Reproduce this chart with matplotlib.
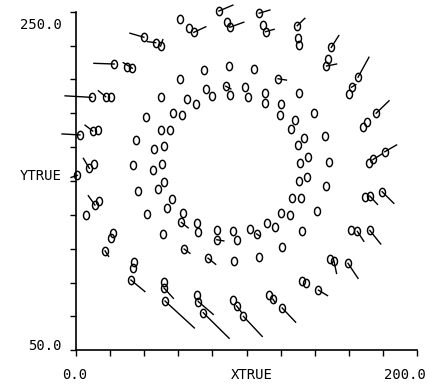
import numpy as np
import matplotlib
matplotlib.use('Agg')
import matplotlib.pyplot as plt
from matplotlib.path import Path

# outer ring: 24 clusters of 3 points (outermost first), with displacement vectors
outer_x = [2.3, 9.8, 13.1,   0.8, 7.8, 10.5,   5.7, 11.1, 13.5,   17.0, 20.8, 21.4,
           32.2, 33.6, 34.2,   52.2, 51.6, 51.7,   74.6, 71.7, 71.1,   98.2, 94.2, 91.8,
           120.9, 115.4, 113.1,   142.2, 134.8, 132.3,   159.5, 151.3, 149.1,   172.3, 165.0, 161.4,
           179.5, 172.3, 169.4,   181.1, 174.2, 171.7,   176.0, 170.8, 168.5,   165.4, 161.6, 160.0,
           149.7, 147.5, 146.9,   129.7, 130.3, 130.9,   107.4, 109.8, 111.2,   83.8, 88.3, 90.2,
           60.9, 66.4, 69.1,   39.8, 46.7, 49.6,   22.4, 30.1, 33.0,   9.2, 17.4, 20.3]
outer_y = [177.2, 179.5, 180.1,   153.3, 157.5, 159.9,   129.9, 135.8, 138.2,   108.7, 116.3, 119.3,
           91.5, 98.9, 101.9,   79.1, 86.8, 90.3,   72.2, 78.8, 82.7,   70.0, 76.2, 79.7,
           75.0, 80.2, 82.8,   85.5, 89.5, 90.9,   101.4, 102.7, 103.9,   120.8, 120.2, 120.8,
           143.7, 141.1, 140.4,   167.3, 162.7, 160.9,   190.0, 185.0, 182.1,   211.3, 205.4, 201.4,
           228.9, 221.9, 217.9,   241.7, 234.3, 230.3,   249.1, 242.2, 238.2,   250.4, 244.1, 240.8,
           245.5, 240.2, 237.8,   234.9, 231.7, 229.7,   219.1, 217.5, 216.6,   199.4, 199.8, 199.8]
outer_u = [-10.5, -4.5, 0,   -3.7, -3.5, 0,   0, -3.9, 0,   2.1, 0, 0,
           8.2, 0, 0,   17.2, 5.5, 0,   15.2, 8.8, 0,   11.0, 3.0, 0,
           7.9, 1.5, 0,   5.3, 0, 0,   5.9, 1.5, 0,   6.4, 3.8, 0,
           6.9, 4.5, 0,   6.9, 5.0, 0,   7.6, 0, 0,   6.4, 2.5, 0,
           4.4, 0, 5.9,   4.5, 0, 0,   6.3, 0, 5.0,   8.2, 0, 8.2,
           0, 0, 7.0,   -8.2, -4.7, 1.3,   -11.9, 0, -5.3,   -15.6, -4.3, 0]
outer_v = [0.6, 3.5, 0,   -1.2, 5.9, 0,   0, 5.5, 0,   -3.2, 0, 0,
           -6.8, 0, 0,   -15.9, -6.1, 0,   -15.1, -7.6, 0,   -11.8, -4.0, 0,
           -8.4, -2.0, 0,   -3.2, 0, 0,   -8.9, -7.3, 0,   -8.0, -5.8, 0,
           -6.9, -4.9, 0,   4.0, 3.1, 0,   7.4, 0, 0,   11.8, 1.5, 0,
           7.0, 0, 1.2,   4.4, 0, 0,   1.9, 0, 1.4,   3.5, 0, 3.0,
           0, 0, 3.3,   2.4, 0.6, 3.8,   0.4, 0, 3.3,   0.9, 3.5, 0]

# middle ring
mid_x = [49.8, 60.9, 75.0, 89.8, 104.5, 118.5, 130.7, 139.8, 146.2, 148.4, 146.7, 141.2,
         132.6, 120.7, 107.2, 92.6, 77.4, 63.4, 51.3, 41.7, 36.2, 33.6, 35.0, 40.9]
mid_y = [199.9, 210.0, 215.6, 217.8, 216.2, 210.4, 201.7, 190.0, 176.4, 161.1, 146.8, 132.2,
         120.6, 111.3, 105.2, 102.5, 104.4, 109.8, 118.7, 130.5, 144.1, 159.2, 174.2, 187.6]
mid_u = [0, 0, 0, 0, 0, 4.9, 0, 0, 0, 0, 0, 0, 0, 0, 0, 0, 4.5, 3.4, 0, 0, 0, 0, 0, 0]
mid_v = [0, 0, 0, 0, 0, -0.8, 0, 0, 0, 0, 0, 0, 0, 0, 0, 0, -3.6, -2.5, 0, 0, 0, 0, 0, 0]

# inner ring: pairs
inner_x = [56.7, 61.9, 64.9, 70.6, 76.2, 79.7, 87.8, 90.5, 99.0, 101.0, 110.8, 111.1,
           120.5, 119.5, 128.3, 126.3, 133.7, 130.1, 136.1, 131.6, 135.7, 130.5, 131.9, 126.6,
           125.4, 120.1, 116.6, 111.8, 105.9, 102.0, 94.3, 92.2, 82.6, 82.8, 71.3, 70.8,
           61.8, 62.7, 53.5, 56.0, 48.2, 51.7, 45.3, 50.2, 46.0, 51.6, 50.0, 55.1]
inner_y = [189.9, 188.7, 198.4, 195.7, 204.1, 200.0, 206.0, 200.8, 205.4, 199.4, 201.8, 195.9,
           195.2, 189.0, 186.3, 180.9, 175.5, 171.3, 164.2, 160.5, 152.4, 150.0, 140.1, 139.8,
           130.2, 131.1, 122.8, 125.1, 118.7, 121.8, 114.9, 120.2, 115.3, 121.1, 119.6, 124.9,
           125.5, 130.9, 134.2, 139.5, 145.3, 149.2, 156.5, 159.8, 168.8, 170.4, 180.1, 180.3]
inner_u = [0] * 48
inner_v = [0] * 48
inner_u[6], inner_v[6] = 3.0, -1.6
inner_u[28], inner_v[28] = 1.9, -1.2
inner_u[32], inner_v[32] = 4.1, -0.7
inner_u[36], inner_v[36] = 4.0, -3.2

x_labels = ['0.0', 'XTRUE', '200.0']
y_labels = ['250.0', 'YTRUE', '50.0']

xs = np.array(outer_x + mid_x + inner_x)
ys = np.array(outer_y + mid_y + inner_y)
us = np.array(outer_u + mid_u + inner_u)
vs = np.array(outer_v + mid_v + inner_v)

# tall ellipse marker, like the plotter's "0"
t = np.linspace(0, 2*np.pi, 40)
ell = Path(np.column_stack([0.36*np.cos(t), 0.5*np.sin(t)]), closed=True)

fig = plt.figure(figsize=(4.29, 3.86), dpi=100)
ax = fig.add_axes([0.1772, 0.0925, 0.7949, 0.8772])

for x, y, u, v in zip(xs, ys, us, vs):
	if u != 0 or v != 0:
		ax.plot([x, x+u], [y, y+v], color='black', lw=1.0, clip_on=False)

ax.plot(xs, ys, ls='none', marker=ell, markersize=6, mfc='none',
		mec='black', mew=1.05, clip_on=False)

ax.set_xlim(0, 200)
ax.set_ylim(50, 250)
ax.set_xticks(np.arange(0, 201, 20))
ax.set_yticks(np.arange(50, 251, 20))
ax.set_xticklabels([])
ax.set_yticklabels([])
ax.tick_params(direction='out', length=4.5, width=1.0)
ax.spines['top'].set_visible(False)
ax.spines['right'].set_visible(False)
ax.spines['left'].set_linewidth(1.2)
ax.spines['bottom'].set_linewidth(1.2)

font = {'family': 'DejaVu Sans Mono', 'size': 10, 'color': 'black'}
for xp, txt in zip([-0.5, 103.0, 193.0], x_labels):
	ax.text(xp, 35.6, txt, ha='center', va='center', fontdict=font, clip_on=False)
for yp, txt in zip([242.0, 153.0, 52.4], y_labels):
	ax.text(-8.5, yp, txt, ha='right', va='center', fontdict=font, clip_on=False)

fig.savefig('out.png', dpi=100)
